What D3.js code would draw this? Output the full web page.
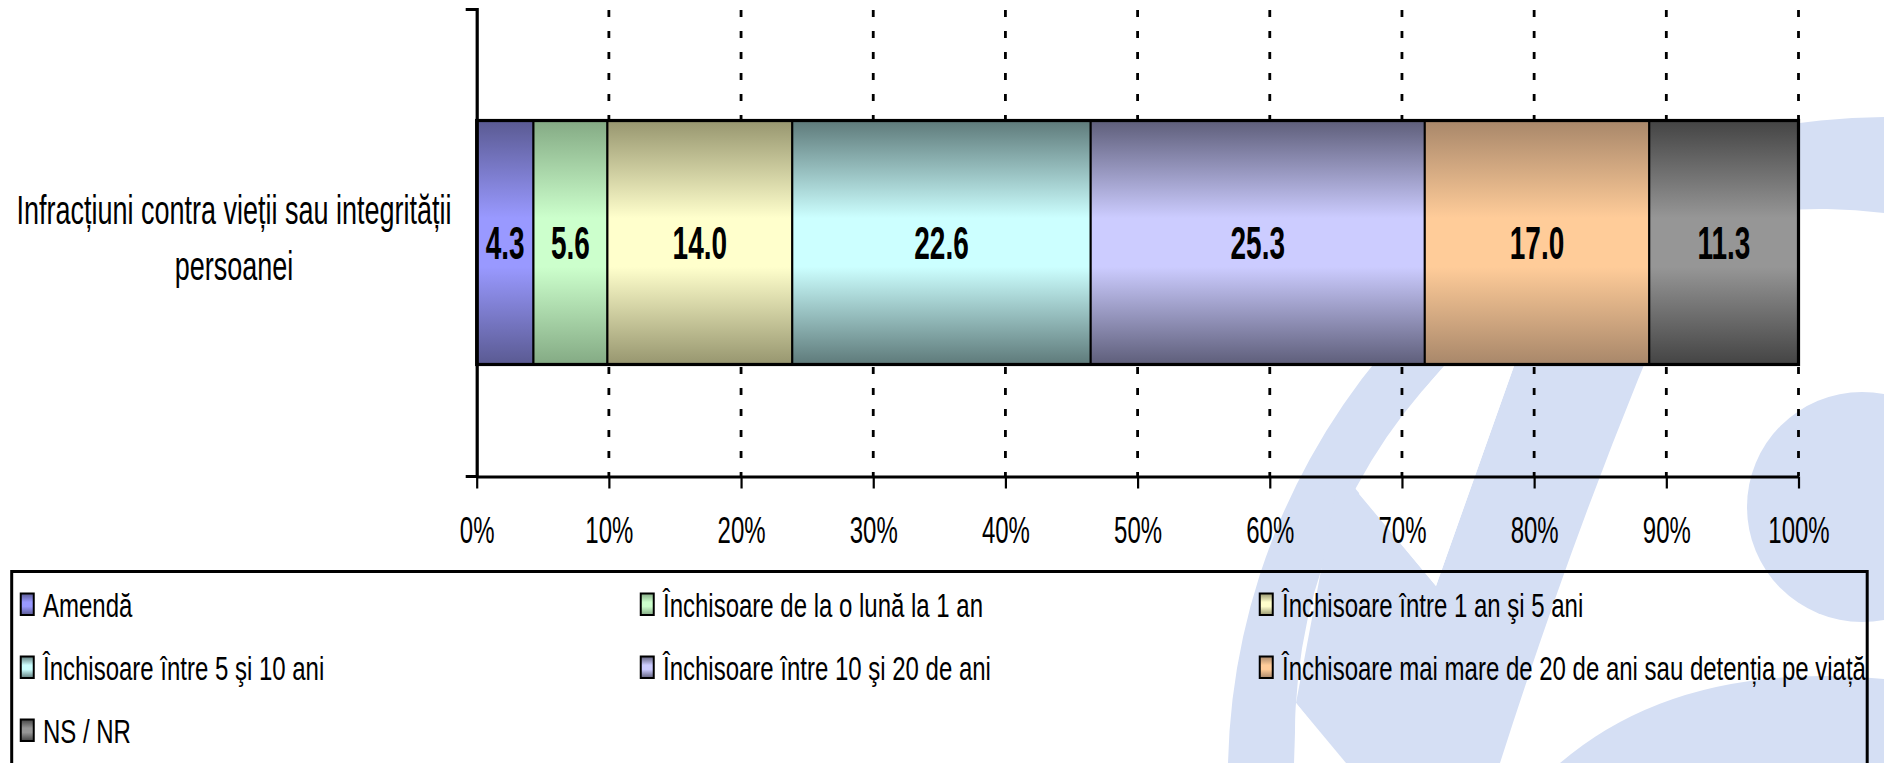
<!DOCTYPE html>
<html><head><meta charset="utf-8">
<script src="https://cdn.jsdelivr.net/npm/d3@7"></script>
<style>
body{margin:0;background:#fff}
svg{display:block}
text{font-family:"Liberation Sans",Arial,Helvetica,sans-serif;fill:#000}
</style></head>
<body>
<svg id="chart" width="1884" height="763"></svg>
<script>
// ---- data ----
const categories = ["Infracțiuni contra vieții sau integrității persoanei"];
const categoryLines = ["Infracțiuni contra vieții sau integrității", "persoanei"];
const seriesNames = [
  "Amendă",
  "Închisoare de la o lună la 1 an",
  "Închisoare între 1 an şi 5 ani",
  "Închisoare între 5 şi 10 ani",
  "Închisoare între 10 şi 20 de ani",
  "Închisoare mai mare de 20 de ani sau detenția pe viață",
  "NS / NR"
];
const seriesValues = [4.3, 5.6, 14.0, 22.6, 25.3, 17.0, 11.3];
const tickValues = [0, 0.1, 0.2, 0.3, 0.4, 0.5, 0.6, 0.7, 0.8, 0.9, 1.0];
const tickLabels = ["0%", "10%", "20%", "30%", "40%", "50%", "60%", "70%", "80%", "90%", "100%"];
const midColors  = ["#9999ff", "#ccffcc", "#ffffcc", "#ccffff", "#ccccff", "#ffcc99", "#969696"];
const edgeColors = ["#5a5a92", "#84aa84", "#97966f", "#5e7a7a", "#5e5e7a", "#a8876a", "#444444"];

// ---- setup ----
const svg = d3.select("#chart");
const defs = svg.append("defs");

seriesNames.forEach((s, i) => {
  const g = defs.append("linearGradient").attr("id", "grad" + i)
    .attr("x1", 0).attr("y1", 0).attr("x2", 0).attr("y2", 1);
  [[0, edgeColors[i]], [0.4, midColors[i]], [0.6, midColors[i]], [1, edgeColors[i]]]
    .forEach(([o, c]) => g.append("stop").attr("offset", o).attr("stop-color", c));
});

// ---- watermark (background logo) ----
const wm = svg.append("g").attr("class", "watermark");
const wmColor = "#d5dff4";
// left arc stroke
wm.append("path").attr("fill", wmColor)
  .attr("d", "M1884,117 A661,661 0 0,0 1228,763 L1296,763 A524,524 0 0,1 1884,213 Z");
// second stroke joined by a diagonal
wm.append("path").attr("fill", wmColor)
  .attr("d", "M1340,470 L1436,586 L1514,366 L1600,200 L1720,190 Q1600,450 1500,763 L1344,763 L1296,703 Z");
// disc on the right
wm.append("circle").attr("fill", wmColor).attr("cx", 1862).attr("cy", 507).attr("r", 115);
// lower right tail
wm.append("path").attr("fill", wmColor)
  .attr("d", "M1560,763 Q1680,660 1884,679 L1884,763 Z");
// white cut-outs
wm.append("path").attr("fill", "#fff")
  .attr("d", "M1359,494 A524,524 0 0,1 1444,366 Q1520,250 1660,170 Q1560,260 1514,366 L1436,586 Z");
wm.append("path").attr("fill", "#fff")
  .attr("d", "M1296,703 L1346,763 L1294,763 Z");

// ---- scales ----
const x = d3.scaleLinear().domain([0, 1]).range([476.7, 1798.5]);
const y = d3.scaleBand().domain(categories).range([9, 476]).paddingInner(0.3137).paddingOuter(0.3137);

// ---- gridlines ----
svg.append("g").selectAll("line").data(tickValues.slice(1)).join("line")
  .attr("x1", d => x(d)).attr("x2", d => x(d))
  .attr("y1", 10).attr("y2", 476)
  .attr("stroke", "#000").attr("stroke-width", 2.8)
  .attr("stroke-dasharray", "7,14");

// ---- stacked bar ----
const row = {cat: categories[0]};
seriesNames.forEach((s, i) => row[s] = seriesValues[i]);
const stack = d3.stack().keys(seriesNames).offset(d3.stackOffsetExpand);
const layers = stack([row]);

const bars = svg.append("g");
layers.forEach((layer, i) => {
  const d = layer[0];
  bars.append("rect")
    .attr("x", x(d[0])).attr("y", y(d.data.cat))
    .attr("width", x(d[1]) - x(d[0])).attr("height", y.bandwidth())
    .attr("fill", `url(#grad${i})`)
    .attr("stroke", "#000").attr("stroke-width", 2);
});
bars.append("rect")
  .attr("x", x(0)).attr("y", y(categories[0]))
  .attr("width", x(1) - x(0)).attr("height", y.bandwidth())
  .attr("fill", "none").attr("stroke", "#000").attr("stroke-width", 3.2);

// value labels
layers.forEach((layer, i) => {
  const d = layer[0];
  const cx = (x(d[0]) + x(d[1])) / 2;
  const cy = y(d.data.cat) + y.bandwidth() / 2;
  svg.append("text")
    .attr("transform", `translate(${cx},${cy + 16.5}) scale(1,1.66)`)
    .attr("text-anchor", "middle")
    .attr("font-weight", "bold").attr("font-size", 28)
    .text(seriesValues[i].toFixed(1));
});

// ---- axes ----
const xAxis = svg.append("g").attr("transform", "translate(0,476.5)")
  .call(d3.axisBottom(x).tickValues(tickValues).tickSizeInner(12).tickSizeOuter(0).tickFormat((d, i) => tickLabels[i]));
xAxis.select(".domain").attr("stroke-width", 3.2);
xAxis.selectAll(".tick line").attr("stroke-width", 2.2);
xAxis.selectAll(".tick text")
  .attr("font-size", 24).attr("dy", null).attr("y", 0)
  .attr("transform", "translate(0,66.5) scale(1,1.55)");

const yAxis = svg.append("g").attr("transform", "translate(476.7,0)")
  .call(d3.axisLeft(y).tickSizeInner(0).tickSizeOuter(11).tickFormat(""));
yAxis.select(".domain").attr("stroke-width", 3.2);

// category label
const yc = y(categories[0]) + y.bandwidth() / 2;
categoryLines.forEach((t, i) => {
  svg.append("text")
    .attr("transform", `translate(234,${yc - 18.5 + i * 56}) scale(1,1.5)`)
    .attr("text-anchor", "middle").attr("font-size", 27)
    .text(t);
});

// ---- legend ----
const lg = svg.append("g");
lg.append("rect").attr("x", 11.7).attr("y", 571.5).attr("width", 1855.5).attr("height", 260)
  .attr("fill", "none").attr("stroke", "#000").attr("stroke-width", 3);
const colX = [20, 640, 1259];
const rowY = [617, 680, 743];
seriesNames.forEach((s, i) => {
  const cx = colX[i % 3], by = rowY[Math.floor(i / 3)];
  lg.append("rect").attr("x", cx + 0.75).attr("y", by - 23.5).attr("width", 13).attr("height", 21.5)
    .attr("fill", `url(#grad${i})`).attr("stroke", "#000").attr("stroke-width", 2);
  lg.append("text")
    .attr("transform", `translate(${cx + 23},${by}) scale(1,1.36)`)
    .attr("font-size", 24)
    .text(s);
});
</script>
</body></html>
